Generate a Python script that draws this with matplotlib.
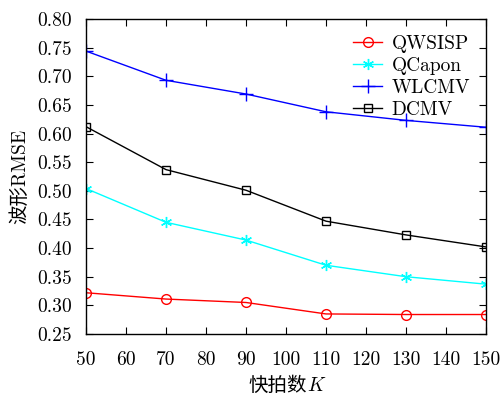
import matplotlib
matplotlib.use("Agg")
import matplotlib.pyplot as plt
from matplotlib.offsetbox import TextArea, HPacker, AnchoredOffsetbox

K = [50, 70, 90, 110, 130, 150]
qwsisp = [0.322, 0.311, 0.305, 0.285, 0.284, 0.284]
qcapon = [0.504, 0.445, 0.414, 0.370, 0.350, 0.337]
wlcmv = [0.744, 0.693, 0.669, 0.638, 0.623, 0.611]
dcmv = [0.612, 0.537, 0.501, 0.447, 0.423, 0.402]
labels = ["QWSISP", "QCapon", "WLCMV", "DCMV"]
xticks = list(range(50, 151, 10))
yticks = [0.25, 0.30, 0.35, 0.40, 0.45, 0.50, 0.55, 0.60, 0.65, 0.70, 0.75, 0.80]

plt.rcParams['font.family'] = ['cmr10', 'Noto Sans CJK SC', 'DejaVu Sans']
plt.rcParams['mathtext.fontset'] = 'cm'

fig = plt.figure(figsize=(5, 3.96), dpi=100)
ax = fig.add_axes([0.172, 0.1566, 0.8, 0.7954])

ax.plot(K, qwsisp, color='red', marker='o', mfc='none', ms=7, lw=1, label=labels[0])
ax.plot(K, qcapon, color='cyan', marker=(6, 2, 0), ms=8, lw=1, label=labels[1])
ax.plot(K, wlcmv, color='blue', marker='+', ms=10, mew=1, lw=1, label=labels[2])
ax.plot(K, dcmv, color='black', marker='s', mfc='none', ms=6, lw=1, label=labels[3])

ax.set_xlim(50, 150)
ax.set_ylim(0.25, 0.80)
ax.set_xticks(xticks)
ax.set_yticks(yticks)
ax.set_xticklabels([str(v) for v in xticks])
ax.set_yticklabels(["%.2f" % v for v in yticks])
ax.tick_params(axis='both', direction='in', top=True, right=True, labelsize=14, length=5)
ax.tick_params(axis='y', pad=10)
ax.tick_params(axis='x', pad=12)
for s in ax.spines.values():
    s.set_linewidth(1)

ax.set_ylabel('波形RMSE', fontsize=14, labelpad=6)

t1 = TextArea('快拍数', textprops=dict(fontsize=14, family=['Noto Sans CJK SC']))
t2 = TextArea('K', textprops=dict(fontsize=14, family=['cmmi10']))
pack = HPacker(children=[t1, t2], pad=0, sep=0, align='baseline')
box = AnchoredOffsetbox(loc='lower center', child=pack, frameon=False, pad=0,
                        borderpad=0, bbox_to_anchor=(0.572, 0.0),
                        bbox_transform=fig.transFigure)
fig.add_artist(box)

ax.legend(loc='upper right', frameon=False, fontsize=14, handlelength=1.5,
          labelspacing=0.22, borderaxespad=0.4, handletextpad=0.5)

fig.savefig('out.png', dpi=100)
